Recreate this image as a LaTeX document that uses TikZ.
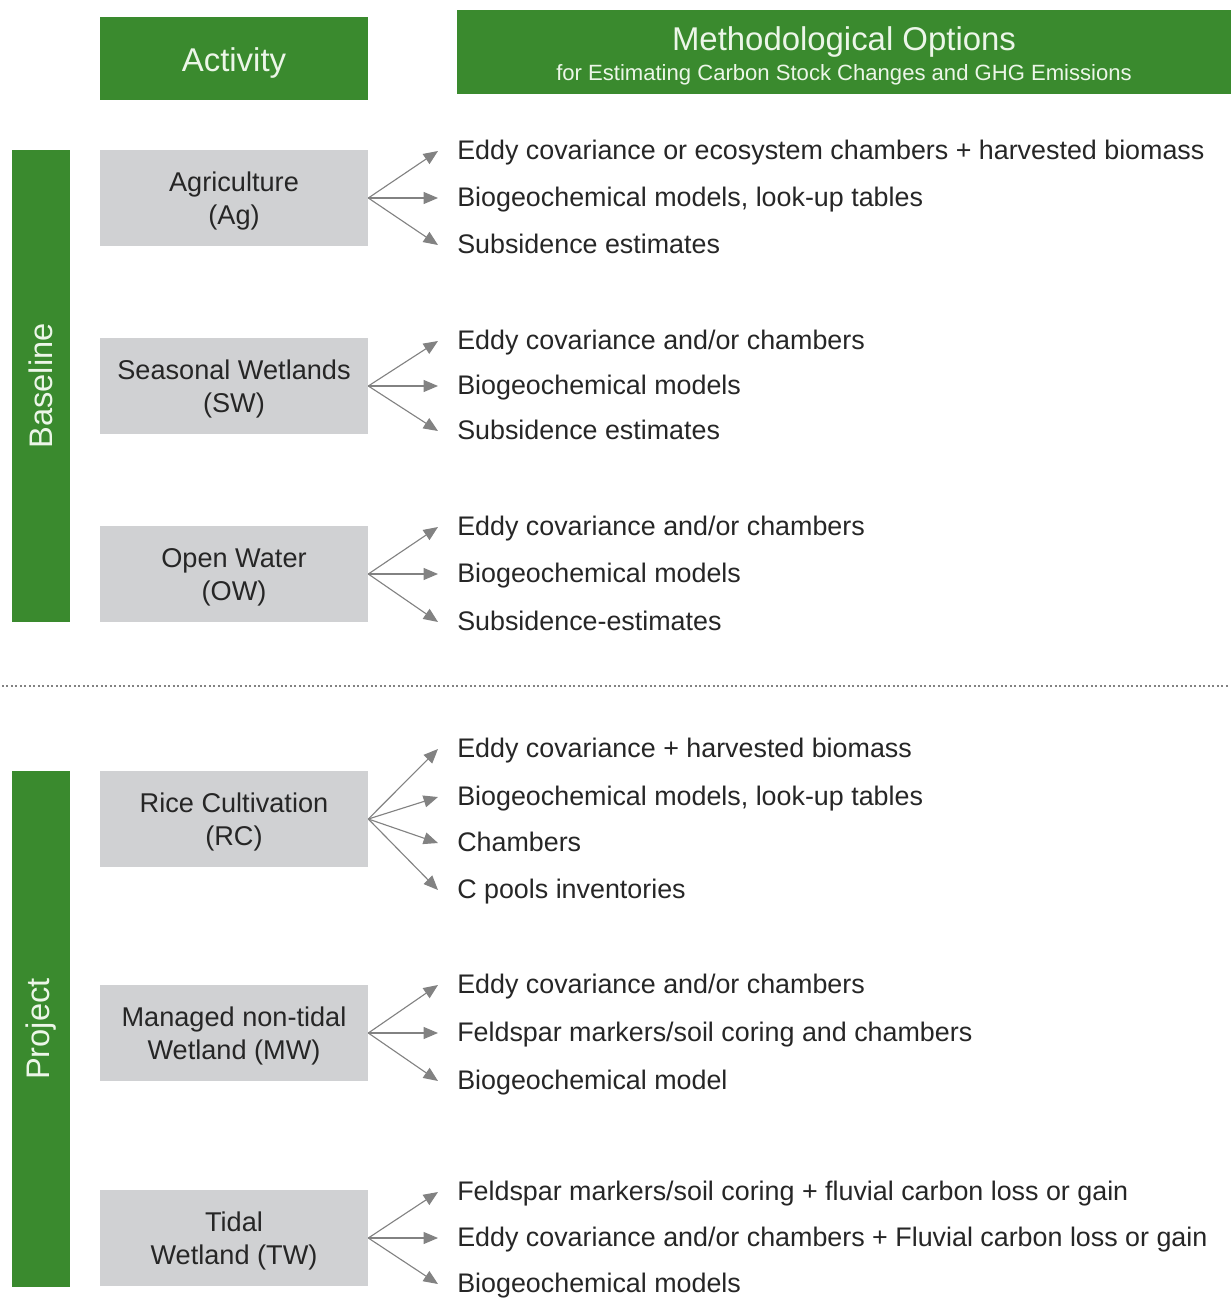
\documentclass[tikz,border=0pt]{standalone}
\usepackage{fontspec}
\setmainfont{Liberation Sans}
\usetikzlibrary{arrows.meta, positioning}

\definecolor{headgreen}{RGB}{58,138,46}
\definecolor{headtext}{RGB}{236,246,232}
\definecolor{boxgray}{RGB}{208,209,211}
\definecolor{arrowgray}{RGB}{130,130,130}

\begin{document}
\begin{tikzpicture}[
  x=0.025cm, y=-0.025cm,
  header/.style={fill=headgreen, text=headtext, inner sep=0pt, align=center},
  sidebar/.style={fill=headgreen, text=headtext, inner sep=0pt, minimum width=1.45cm,
    font=\fontsize{23.2}{27}\selectfont},
  activity/.style={fill=boxgray, text=black!85, inner sep=0pt, align=center,
    minimum width=6.7cm, minimum height=2.4cm, font=\fontsize{19.3}{23.5}\selectfont},
  option/.style={anchor=west, inner sep=0pt, text=black!85,
    font=\fontsize{19.1}{22}\selectfont, text height=15pt, text depth=2.6pt},
  branch/.style={draw=arrowgray, line width=0.8pt,
    -{Triangle[length=0.36cm, width=0.3cm, fill=arrowgray]}},
]
  \useasboundingbox (0,0) rectangle (1231,1298);

  % Headers
  \node[header, minimum width=6.7cm, minimum height=2.075cm, text height=20pt,
    text depth=1pt, font=\fontsize{23.4}{27}\selectfont] (activityhead) at (234,58.5) {Activity};
  \node[header, minimum width=19.35cm, minimum height=2.1cm,
    font=\fontsize{15.7}{21}\selectfont] (methodhead) at (844,52)
    {\rule{0pt}{22.7pt}{\fontsize{23.4}{27}\selectfont Methodological Options}\\
     for Estimating Carbon Stock Changes and GHG Emissions};

  % Side bars
  \node[sidebar, minimum height=11.8cm] (baseline) at (41,386)
    {\rotatebox{90}{Baseline}};
  \node[sidebar, minimum height=12.9cm] (project) at (41,1029)
    {\rotatebox{90}{Project}};

  % Separator
  \draw[arrowgray, line width=2pt, dash pattern=on 1.3pt off 1.9pt]
    (2,686) -- (1229,686);

  % Activities
  \foreach \name/\y/\label in {
      Ag/198/{Agriculture\\(Ag)},
      SW/386/{Seasonal Wetlands\\(SW)},
      OW/574/{Open Water\\(OW)},
      RC/819/{Rice Cultivation\\(RC)},
      MW/1033/{Managed non-tidal\\Wetland (MW)},
      TW/1238/{Tidal\\Wetland (TW)}} {
    \node[activity] (\name) at (234,\y) {\rule{0pt}{18.3pt}\label};
  }

  % Methodological options
  \foreach \src/\i/\y/\txt in {
      Ag/1/151/{Eddy covariance or ecosystem chambers + harvested biomass},
      Ag/2/198/{Biogeochemical models, look-up tables},
      Ag/3/245/{Subsidence estimates},
      SW/1/341/{Eddy covariance and/or chambers},
      SW/2/386/{Biogeochemical models},
      SW/3/431/{Subsidence estimates},
      OW/1/527/{Eddy covariance and/or chambers},
      OW/2/574/{Biogeochemical models},
      OW/3/622/{Subsidence-estimates},
      RC/1/749/{Eddy covariance + harvested biomass},
      RC/2/797/{Biogeochemical models, look-up tables},
      RC/3/843/{Chambers},
      RC/4/890/{C pools inventories},
      MW/1/985/{Eddy covariance and/or chambers},
      MW/2/1033/{Feldspar markers/soil coring and chambers},
      MW/3/1081/{Biogeochemical model},
      TW/1/1192/{Feldspar markers/soil coring + fluvial carbon loss or gain},
      TW/2/1238/{Eddy covariance and/or chambers + Fluvial carbon loss or gain},
      TW/3/1284/{Biogeochemical models}} {
    \node[option] (\src\i) at (457,\y) {\txt};
    \draw[branch] (\src.east) -- ([xshift=-0.475cm]\src\i.west);
  }
\end{tikzpicture}
\end{document}
